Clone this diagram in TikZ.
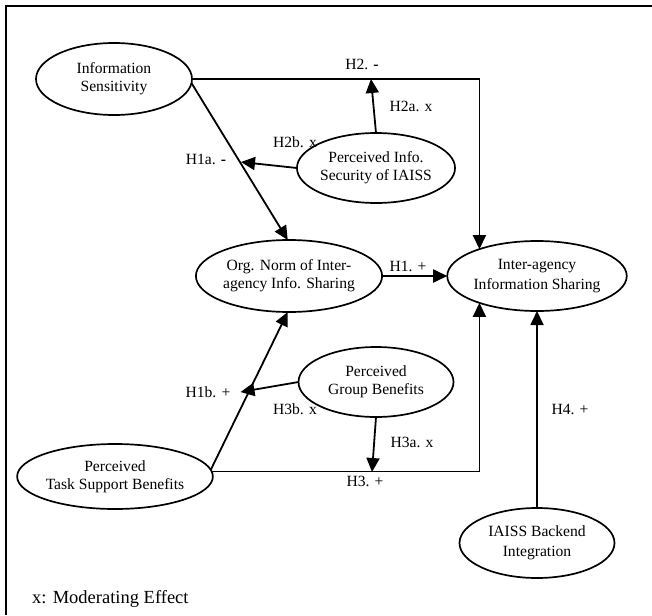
\documentclass[tikz,border=0pt]{standalone}
\usepackage{fontspec}
\setmainfont{Liberation Serif}
\usetikzlibrary{arrows.meta,shapes.geometric}
\tikzset{
  ell/.style={ellipse, draw, line width=1.7pt, inner sep=0pt, outer sep=0pt, align=center,
    font=\fontsize{15.6}{18}\selectfont},
  conn/.style={line width=1.8pt, -{Triangle[length=14pt,width=13pt]}},
  lbl/.style={anchor=base, inner sep=0pt, font=\fontsize{15.6}{18}\selectfont},
  frame/.style={line width=2pt}
}
\begin{document}
\begin{tikzpicture}[x=1pt,y=-1pt]
\useasboundingbox (0,0) rectangle (652,615);
\coordinate (ftl) at (6,6);
\coordinate (ftr) at (652,6);
\coordinate (fbl) at (6,615);
\draw[frame] (ftr) -- (ftl) -- (fbl);

\node[ell, minimum width=156pt, minimum height=72pt] (IS) at (114,79) {Information\\Sensitivity};
\node[ell, minimum width=156pt, minimum height=70pt] (PIS) at (376,168) {Perceived Info.\\Security of IAISS};
\node[ell, minimum width=156pt, minimum height=72pt] (ON) at (289,276) {Org. Norm of Inter-\\agency Info. Sharing};
\node[ell, minimum width=156pt, minimum height=70pt] (IA) at (537,276) {Inter-agency\\[2.5pt]Information Sharing};
\node[ell, minimum width=155pt, minimum height=70pt] (PGB) at (376,382) {Perceived\\Group Benefits};
\node[ell, minimum width=157pt, minimum height=65pt] (TSB) at (115,476.5) {Perceived\\Task Support Benefits};
\node[ell, minimum width=155pt, minimum height=70pt] (BI) at (537,543) {IAISS Backend\\[2.5pt]Integration};

% H2
\draw[conn] (IS.east) -| (IA.155.7);
\coordinate (h2a) at (371,79);
\draw[conn] (PIS.north) -- (h2a);
% H1a
\draw[conn] (IS.-3) -- (ON.92);
\coordinate (h2b) at (241,162);
\draw[conn] (PIS.west) -- (h2b);
% H1
\draw[conn] (ON.east) -- (IA.west);
% H1b
\draw[conn] (TSB.4.3) -- (ON.-92);
\coordinate (h3b) at (240.5,392);
\draw[conn] (PGB.west) -- (h3b);
% H3
\draw[conn] (TSB.3.3) -| (IA.205.1);
\coordinate (h3a) at (372,472);
\draw[conn] (PGB.south) -- (h3a);
% H4
\draw[conn] (BI.north) -- (IA.south);

\node[lbl] (lH2) at (362,70) {H2. \textbf{-}};
\node[lbl] (lH2a) at (411,111) {H2a. x};
\node[lbl] (lH2b) at (295,147) {H2b. x};
\node[lbl] (lH1a) at (206,164) {H1a. \textbf{-}};
\node[lbl] (lH1) at (408,271) {H1. +};
\node[lbl] (lH1b) at (208,397) {H1b. +};
\node[lbl] (lH3b) at (295,414) {H3b. x};
\node[lbl] (lH3a) at (412,447) {H3a. x};
\node[lbl] (lH3) at (365,486) {H3. +};
\node[lbl] (lH4) at (570,414) {H4. +};
\node[anchor=base west, inner sep=0pt, font=\fontsize{18.5}{22}\selectfont] (legend) at (32,603) {x: Moderating Effect};
\end{tikzpicture}
\end{document}
